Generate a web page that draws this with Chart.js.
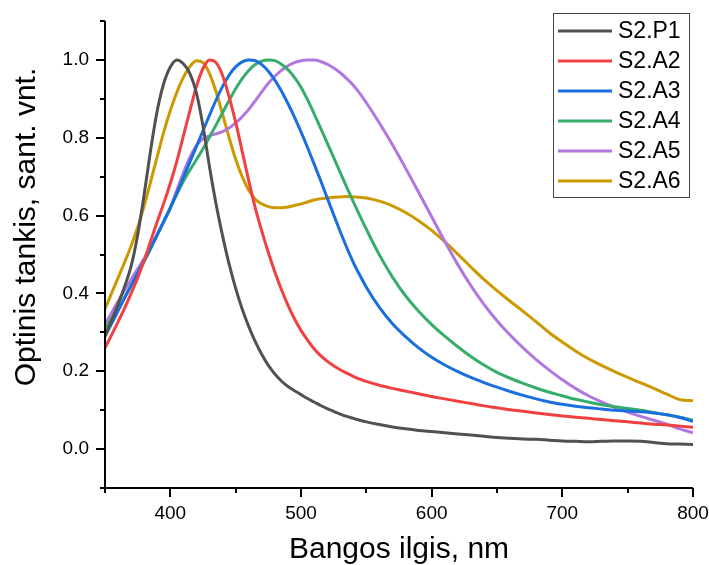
<!DOCTYPE html>
<html>
<head>
<meta charset="utf-8">
<script src="https://cdn.jsdelivr.net/npm/chart.js@4.4.1/dist/chart.umd.min.js"></script>
<style>
  html, body { margin: 0; padding: 0; background: #fff; }
  canvas { display: block; }
</style>
</head>
<body>
<canvas id="spektrai" width="709" height="565"></canvas>
<script>
// Bangos ilgis (nm): kas 5 nm iki 550, toliau kas 10 nm
const bangosIlgis = [
  350, 355, 360, 365, 370, 375, 380, 385, 390, 395,
  400, 405, 410, 415, 420, 425, 430, 435, 440, 445,
  450, 455, 460, 465, 470, 475, 480, 485, 490, 495,
  500, 505, 510, 515, 520, 525, 530, 535, 540, 545, 550,
  560, 570, 580, 590, 600, 610, 620, 630, 640, 650,
  660, 670, 680, 690, 700, 710, 720, 730, 740, 750,
  760, 770, 780, 790, 800
];

const serijos = ['S2.P1', 'S2.A2', 'S2.A3', 'S2.A4', 'S2.A5', 'S2.A6'];
const spalvos = ['#515151', '#F14040', '#1A6FDF', '#37AD6B', '#B177DE', '#CC9900'];

const p1 = [
  0.29, 0.33, 0.372, 0.418, 0.47, 0.55, 0.655, 0.77, 0.87, 0.94,
  0.982, 1.0, 0.99, 0.965, 0.915, 0.83, 0.725, 0.63, 0.548, 0.475,
  0.413, 0.36, 0.315, 0.276, 0.243, 0.215, 0.193, 0.175, 0.161, 0.15,
  0.14, 0.13, 0.121, 0.112, 0.104, 0.097, 0.09, 0.084, 0.079, 0.074, 0.07,
  0.063, 0.057, 0.052, 0.048, 0.045, 0.042, 0.039, 0.036, 0.033, 0.030,
  0.028, 0.026, 0.025, 0.023, 0.021, 0.020, 0.019, 0.020, 0.021, 0.021,
  0.020, 0.017, 0.014, 0.013, 0.012
];
const a2 = [
  0.26, 0.293, 0.327, 0.362, 0.40, 0.44, 0.485, 0.535, 0.585, 0.632,
  0.683, 0.74, 0.805, 0.87, 0.932, 0.978, 1.0, 0.993, 0.96, 0.905,
  0.84, 0.765, 0.69, 0.62, 0.56, 0.505, 0.455, 0.41, 0.37, 0.335,
  0.305, 0.28, 0.258, 0.24, 0.226, 0.214, 0.204, 0.195, 0.187, 0.18, 0.174,
  0.164, 0.156, 0.149, 0.142, 0.135, 0.129, 0.123, 0.117, 0.111, 0.106,
  0.101, 0.097, 0.093, 0.089, 0.085, 0.082, 0.079, 0.076, 0.073, 0.070,
  0.067, 0.064, 0.062, 0.059, 0.056
];
const a3 = [
  0.29, 0.322, 0.355, 0.388, 0.42, 0.452, 0.485, 0.518, 0.551, 0.585,
  0.62, 0.658, 0.698, 0.738, 0.778, 0.818, 0.858, 0.897, 0.932, 0.961,
  0.982, 0.995, 1.0, 0.998, 0.988, 0.971, 0.948, 0.92, 0.888, 0.853,
  0.815, 0.775, 0.733, 0.69, 0.646, 0.602, 0.559, 0.518, 0.48, 0.447, 0.416,
  0.364, 0.322, 0.289, 0.26, 0.236, 0.216, 0.199, 0.184, 0.171, 0.159,
  0.148, 0.138, 0.129, 0.121, 0.115, 0.110, 0.106, 0.103, 0.100, 0.098,
  0.096, 0.093, 0.088, 0.081, 0.071
];
const a4 = [
  0.31, 0.335, 0.362, 0.39, 0.42, 0.45, 0.482, 0.515, 0.55, 0.585,
  0.62, 0.655, 0.688, 0.717, 0.744, 0.772, 0.802, 0.833, 0.865, 0.896,
  0.926, 0.952, 0.973, 0.988, 0.997, 1.0, 0.998, 0.989, 0.975, 0.955,
  0.93, 0.898, 0.862, 0.825, 0.787, 0.749, 0.711, 0.673, 0.636, 0.60, 0.565,
  0.499, 0.442, 0.394, 0.354, 0.32, 0.29, 0.263, 0.238, 0.216, 0.197,
  0.182, 0.169, 0.157, 0.146, 0.137, 0.128, 0.121, 0.114, 0.109, 0.104,
  0.10, 0.094, 0.088, 0.082, 0.074
];
const a5 = [
  0.32, 0.35, 0.38, 0.408, 0.436, 0.463, 0.49, 0.52, 0.552, 0.585,
  0.62, 0.665, 0.71, 0.75, 0.78, 0.797, 0.805, 0.81, 0.816, 0.825,
  0.838, 0.854, 0.873, 0.895, 0.918, 0.94, 0.958, 0.973, 0.985, 0.993,
  0.998, 1.0, 1.0, 0.996, 0.989, 0.979, 0.967, 0.952, 0.935, 0.914, 0.89,
  0.838, 0.782, 0.722, 0.66, 0.597, 0.534, 0.474, 0.42, 0.372, 0.33,
  0.293, 0.26, 0.23, 0.203, 0.178, 0.156, 0.137, 0.121, 0.107, 0.095,
  0.084, 0.074, 0.064, 0.052, 0.042
];
const a6 = [
  0.36, 0.40, 0.44, 0.48, 0.522, 0.57, 0.625, 0.688, 0.752, 0.815,
  0.87, 0.917, 0.955, 0.983, 0.998, 0.993, 0.965, 0.918, 0.86, 0.80,
  0.745, 0.70, 0.665, 0.642, 0.63, 0.623, 0.62, 0.62, 0.622, 0.626,
  0.63, 0.635, 0.64, 0.643, 0.645, 0.647, 0.648, 0.649, 0.648, 0.647, 0.645,
  0.637, 0.625, 0.608, 0.587, 0.562, 0.533, 0.501, 0.468, 0.436, 0.407,
  0.38, 0.354, 0.327, 0.299, 0.275, 0.252, 0.232, 0.215, 0.199, 0.184,
  0.17, 0.156, 0.141, 0.127, 0.124
];

const xTicks = [400, 500, 600, 700, 800];
const xMinor = [350, 450, 550, 650, 750];
const yTicks = [0.0, 0.2, 0.4, 0.6, 0.8, 1.0];
const yMinor = [-0.1, 0.1, 0.3, 0.5, 0.7, 0.9, 1.1];

const sriftas = "'Liberation Sans', Arial, sans-serif";
const visosSerijos = [p1, a2, a3, a4, a5, a6];
const yPavadinimas = 'Optinis tankis, sant. vnt.';

// asys, padalos, Y pavadinimas ir legenda piesiami ranka, kaip Origin grafike
const asysPlugin = {
  id: 'asys',
  afterDraw(chart) {
    const { ctx, chartArea: a, scales: { x, y } } = chart;
    ctx.save();
    ctx.strokeStyle = '#000';
    ctx.lineWidth = 2;
    ctx.beginPath();
    ctx.moveTo(a.left, a.top);
    ctx.lineTo(a.left, a.bottom);
    ctx.lineTo(a.right, a.bottom);
    xTicks.forEach(v => {
      const px = Math.round(x.getPixelForValue(v));
      ctx.moveTo(px, a.bottom); ctx.lineTo(px, a.bottom + 9);
    });
    xMinor.forEach(v => {
      const px = Math.round(x.getPixelForValue(v));
      ctx.moveTo(px, a.bottom); ctx.lineTo(px, a.bottom + 5);
    });
    yTicks.forEach(v => {
      const py = Math.round(y.getPixelForValue(v));
      ctx.moveTo(a.left - 9, py); ctx.lineTo(a.left, py);
    });
    yMinor.forEach(v => {
      const py = Math.round(y.getPixelForValue(v));
      ctx.moveTo(a.left - 5, py); ctx.lineTo(a.left, py);
    });
    ctx.stroke();

    // Y asies pavadinimas
    ctx.save();
    ctx.translate(27, 227);
    ctx.rotate(-Math.PI / 2);
    ctx.font = '30px ' + sriftas;
    ctx.fillStyle = '#000';
    ctx.textAlign = 'center';
    ctx.textBaseline = 'middle';
    ctx.fillText(yPavadinimas, 0, 0);
    ctx.restore();

    // legenda
    const bx = 553, by = 13, bw = 136, bh = 184;
    ctx.fillStyle = '#fff';
    ctx.fillRect(bx, by, bw, bh);
    ctx.strokeStyle = '#444';
    ctx.lineWidth = 1;
    ctx.strokeRect(bx + 0.5, by + 0.5, bw, bh);
    ctx.font = '23px ' + sriftas;
    ctx.textBaseline = 'middle';
    ctx.textAlign = 'left';
    chart.data.datasets.forEach((ds, i) => {
      const ry = 31 + i * 30;
      ctx.strokeStyle = ds.borderColor;
      ctx.lineWidth = 3;
      ctx.beginPath();
      ctx.moveTo(558, ry); ctx.lineTo(612, ry);
      ctx.stroke();
      ctx.fillStyle = '#000';
      ctx.fillText(ds.label, 618, ry + 1);
    });
    ctx.restore();
  }
};

new Chart(document.getElementById('spektrai'), {
  type: 'line',
  data: {
    datasets: serijos.map((pav, i) => ({
      label: pav,
      data: bangosIlgis.map((b, j) => ({ x: b, y: visosSerijos[i][j] })),
      borderColor: spalvos[i],
      borderWidth: 3,
      pointRadius: 0,
      fill: false,
      cubicInterpolationMode: 'monotone'
    }))
  },
  options: {
    responsive: false,
    animation: false,
    devicePixelRatio: 1,
    layout: { padding: { top: 21, right: 16, left: 0, bottom: 0 } },
    plugins: { legend: { display: false }, tooltip: { enabled: false } },
    scales: {
      x: {
        type: 'linear',
        min: 350,
        max: 800,
        grid: { display: false, drawTicks: false },
        border: { display: false },
        afterBuildTicks: s => { s.ticks = xTicks.map(v => ({ value: v })); },
        afterFit: s => { s.height = 77; s.paddingLeft = 0; s.paddingRight = 0; },
        ticks: {
          color: '#000',
          padding: 14,
          maxRotation: 0,
          font: { family: sriftas, size: 19 },
          callback: v => String(v)
        },
        title: {
          display: true,
          text: 'Bangos ilgis, nm',
          color: '#000',
          font: { family: sriftas, size: 30, lineHeight: 1.0 },
          padding: { top: 0, bottom: 0 }
        }
      },
      y: {
        type: 'linear',
        min: -0.1,
        max: 1.1,
        grid: { display: false, drawTicks: false },
        border: { display: false },
        afterBuildTicks: s => { s.ticks = yTicks.map(v => ({ value: v })); },
        afterFit: s => { s.width = 105; s.paddingTop = 0; s.paddingBottom = 0; },
        ticks: {
          color: '#000',
          padding: 16,
          font: { family: sriftas, size: 19 },
          callback: v => v.toFixed(1)
        }
      }
    }
  },
  plugins: [asysPlugin]
});
</script>
</body>
</html>
